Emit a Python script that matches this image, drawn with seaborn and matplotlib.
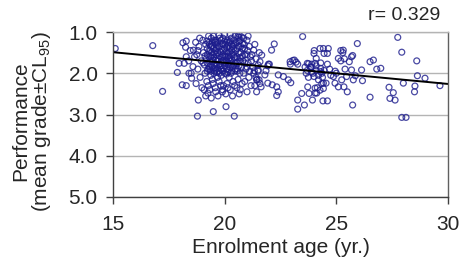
import matplotlib
matplotlib.use("Agg")
import matplotlib.pyplot as plt
import seaborn as sns
import numpy as np
import pandas as pd

# ---- data (age in years, mean grade) ----
young_age = [15.1, 16.78, 17.22, 18.13, 18.28, 18.25, 18.46, 18.28, 17.96, 18.19, 18.39, 17.88,
             18.40, 18.52, 18.10, 18.28, 18.58, 18.82, 18.78, 19.49, 20.06, 20.43, 20.64, 20.64,
             19.25, 19.9, 20.7, 18.6, 18.5, 18.65, 21.3, 21.43, 21.2, 21.35, 21.5]
young_grade = [1.40, 1.33, 2.44, 1.26, 1.22, 1.37, 1.45, 1.60, 1.76, 1.76, 1.70, 1.98,
               2.00, 2.12, 2.28, 2.30, 1.84, 2.65, 3.04, 2.93, 2.81, 3.04, 1.05, 1.13,
               2.48, 2.45, 2.40, 1.44, 2.00, 1.60, 1.44, 2.16, 1.70, 2.30, 1.95]

cluster_age = [18.7, 18.75, 18.8, 18.85, 18.9, 18.95, 18.72, 18.88, 18.98, 18.8,
               19.02, 19.05, 19.1, 19.12, 19.15, 19.18, 19.2, 19.22, 19.25, 19.28, 19.08, 19.15, 19.3, 19.27, 19.03, 19.2, 19.12,
               19.32, 19.35, 19.38, 19.4, 19.42, 19.45, 19.48, 19.5, 19.52, 19.55, 19.58, 19.33, 19.4, 19.45, 19.5, 19.56, 19.36, 19.44, 19.52, 19.58, 19.34, 19.47,
               19.6, 19.62, 19.65, 19.68, 19.7, 19.72, 19.75, 19.78, 19.8, 19.82, 19.85, 19.88, 19.6, 19.7, 19.75, 19.85, 19.9, 19.64, 19.74, 19.86, 19.66, 19.8, 19.9,
               19.92, 19.95, 19.98, 20.0, 20.02, 20.05, 20.08, 20.1, 20.12, 20.15, 20.18, 20.2, 19.95, 20.05, 20.15, 20.0, 20.1, 20.18, 19.94, 20.06, 20.2, 20.14,
               20.22, 20.25, 20.28, 20.3, 20.32, 20.35, 20.38, 20.4, 20.42, 20.45, 20.48, 20.5, 20.25, 20.35, 20.45, 20.3, 20.42, 20.48, 20.24, 20.36,
               20.52, 20.55, 20.58, 20.6, 20.62, 20.65, 20.68, 20.7, 20.72, 20.75, 20.78, 20.8, 20.55, 20.65, 20.6, 20.75, 20.7,
               20.82, 20.85, 20.88, 20.9, 20.95, 21.0, 21.02, 21.05, 21.08, 21.1, 21.15, 21.18, 20.9, 21.0, 21.12, 20.85, 21.05,
               21.22, 21.25, 21.3, 21.35, 21.4, 21.45, 21.55, 21.5, 21.58]
cluster_grade = [1.25, 1.55, 1.90, 1.35, 2.10, 1.70, 2.25, 1.15, 2.35, 1.45,
                 1.20, 1.50, 1.80, 2.00, 1.30, 1.65, 2.20, 1.40, 1.90, 1.10, 2.40, 2.55, 1.60, 2.30, 1.75, 1.22, 1.58,
                 1.30, 1.70, 2.05, 1.15, 1.50, 1.85, 2.25, 1.40, 1.62, 1.95, 1.25, 2.40, 2.60, 2.15, 1.10, 1.78, 1.45, 1.33, 2.00, 2.35, 1.90, 1.68,
                 1.20, 1.55, 1.80, 2.10, 1.35, 1.65, 1.95, 1.15, 1.48, 2.30, 1.72, 1.28, 2.45, 2.55, 2.20, 2.05, 1.60, 1.40, 1.08, 1.90, 1.98, 1.82, 2.40,
                 1.15, 1.45, 1.75, 2.00, 1.30, 1.60, 1.90, 2.25, 1.20, 1.50, 1.80, 2.10, 2.30, 2.50, 2.35, 1.05, 1.38, 1.65, 1.88, 1.72, 1.25, 1.98,
                 1.40, 1.70, 2.00, 1.15, 1.55, 1.85, 2.20, 1.30, 1.62, 1.95, 1.10, 1.45, 2.40, 2.55, 2.30, 1.78, 1.20, 1.75, 1.05, 1.35,
                 1.25, 1.60, 1.90, 2.15, 1.35, 1.70, 2.00, 1.20, 1.50, 1.85, 2.25, 1.40, 2.35, 2.50, 1.10, 1.12, 1.62,
                 1.70, 2.00, 1.30, 1.55, 1.90, 1.20, 1.45, 1.75, 2.10, 1.35, 1.60, 2.30, 2.20, 2.45, 1.95, 1.15, 1.10,
                 1.55, 1.85, 2.00, 1.30, 1.65, 2.15, 1.50, 1.80, 2.25]

core_age = [19.22, 19.22, 19.22, 19.3, 19.3, 19.3, 19.38, 19.38, 19.38, 19.38, 19.45, 19.45, 19.45,
            19.52, 19.52, 19.52, 19.6, 19.6, 19.6, 19.6, 19.68, 19.68, 19.68, 19.68,
            19.76, 19.76, 19.76, 19.76, 19.84, 19.84, 19.84, 19.84, 19.92, 19.92, 19.92, 19.92,
            20.0, 20.0, 20.0, 20.0, 20.08, 20.08, 20.08, 20.08, 20.16, 20.16, 20.16, 20.16,
            20.24, 20.24, 20.24, 20.24, 20.32, 20.32, 20.32, 20.32, 20.4, 20.4, 20.4,
            20.48, 20.48, 20.48, 20.56, 20.56, 20.56, 20.64, 20.64, 20.64, 20.72, 20.72,
            20.8, 20.8, 20.9, 20.9, 21.0, 21.0]
core_grade = [1.55, 1.75, 1.95, 1.25, 1.45, 1.85, 1.35, 1.60, 1.80, 1.95, 1.25, 1.55, 1.72,
              1.20, 1.50, 1.88, 1.30, 1.45, 1.68, 1.92, 1.25, 1.50, 1.70, 1.88,
              1.35, 1.58, 1.78, 2.00, 1.20, 1.42, 1.62, 1.82, 1.30, 1.55, 1.70, 1.95,
              1.22, 1.40, 1.58, 1.82, 1.25, 1.48, 1.68, 2.02, 1.32, 1.58, 1.75, 1.92,
              1.22, 1.48, 1.62, 1.85, 1.30, 1.45, 1.68, 1.95, 1.40, 1.55, 1.80,
              1.28, 1.62, 1.90, 1.40, 1.75, 1.95, 1.22, 1.52, 1.82, 1.35, 1.72,
              1.28, 1.58, 1.40, 1.75, 1.55, 1.85]

mid_age = [21.66, 21.58, 21.96, 21.5, 21.8, 21.54, 21.63, 21.43, 21.93, 22.13, 22.33, 22.4, 22.33, 22.4,
           22.63, 22.93, 23.12, 23.27, 22.85, 22.96, 23.27, 23.27, 23.45, 23.57, 23.72, 23.78, 23.93,
           24.01, 24.27, 23.49, 22.22, 22.1,
           23.7, 23.9, 24.05, 24.3, 23.7, 23.9, 24.1, 24.3, 23.75, 24.0, 24.2, 24.3, 24.35, 24.15, 24.05,
           23.65, 23.85, 24.1, 23.95, 24.2, 23.6, 24.35, 24.42, 24.27, 24.05, 24.12,
           24.0, 24.1, 23.76, 23.86, 22.94, 23.05, 23.2, 22.0, 21.93, 21.85, 21.33, 21.4]
mid_grade = [1.56, 1.72, 1.78, 1.92, 2.04, 2.16, 2.33, 2.45, 2.24, 2.28, 2.33, 2.45, 2.54, 2.04,
             2.08, 1.72, 1.68, 1.78, 2.16, 2.23, 2.65, 2.87, 2.49, 2.77, 2.33, 2.49, 2.65,
             1.45, 1.40, 1.11, 1.29, 1.44,
             1.76, 1.78, 1.76, 1.75, 1.93, 1.97, 1.93, 1.88, 2.10, 2.08, 2.16, 1.96, 2.25, 2.35, 2.48,
             2.00, 1.85, 1.82, 2.00, 2.05, 1.85, 2.00, 2.24, 2.41, 2.36, 2.48,
             1.52, 1.64, 1.77, 1.85, 1.78, 1.69, 1.73, 1.78, 1.82, 1.94, 1.94, 2.10]

old_age = [25.94, 25.31, 25.29, 24.64, 24.6, 24.42, 24.45, 25.68, 25.58, 25.09, 25.2, 24.6, 26.51, 26.66,
           26.81, 26.99, 26.13, 25.68, 25.39, 25.46, 25.24, 24.87, 24.94, 25.09, 25.34, 25.49, 24.54,
           24.42, 24.38, 25.76, 25.85, 26.17, 26.51, 25.73, 24.4, 24.6, 24.95, 24.7, 24.45, 25.0, 24.75,
           25.2, 25.36, 25.73,
           27.75, 27.93, 28.6, 28.63, 28.97, 28.0, 27.36, 27.55, 27.4, 27.63, 28.52, 28.5, 29.64,
           27.93, 28.12]
old_grade = [1.28, 1.44, 1.50, 1.40, 1.52, 1.40, 1.52, 1.60, 1.72, 1.64, 1.70, 1.78, 1.72, 1.68,
             1.90, 1.88, 1.92, 1.92, 1.90, 2.08, 2.16, 2.08, 2.24, 2.33, 2.33, 2.45, 2.24,
             2.37, 2.10, 2.16, 2.06, 2.18, 2.58, 2.77, 2.67, 2.67, 1.95, 1.90, 1.93, 2.00, 2.05,
             1.45, 1.65, 1.57,
             1.13, 1.49, 1.70, 2.06, 2.12, 2.24, 2.34, 2.47, 2.61, 2.65, 2.31, 2.45, 2.30,
             3.07, 3.07]

y_ticks = [1.0, 2.0, 3.0, 4.0, 5.0]
x_ticks = [15, 20, 25, 30]
r_text = "r= 0.329"

df = pd.DataFrame({
    "age": young_age + cluster_age + core_age + mid_age + old_age,
    "grade": young_grade + cluster_grade + core_grade + mid_grade + old_grade,
})

sns.set_style("white")
plt.rcParams["font.family"] = ["Liberation Sans", "DejaVu Sans"]
plt.rcParams["mathtext.fontset"] = "custom"
plt.rcParams["mathtext.rm"] = "Liberation Sans"
plt.rcParams["mathtext.it"] = "Liberation Sans"

FS = 15

fig = plt.figure(figsize=(4.62, 2.60), dpi=100)
ax = fig.add_axes([113 / 462, 1 - 197 / 260, 335 / 462, 165 / 260])
ax.set_xlim(15, 30)
ax.set_ylim(5.0, 1.0)

for yv in y_ticks:
    ax.axhline(yv, color="#b4b4b4", lw=1.0, zorder=0)

sns.regplot(data=df, x="age", y="grade", ax=ax, ci=None, truncate=False,
            scatter_kws=dict(s=18, facecolors="none", edgecolors="#1c1c8c", linewidths=0.9),
            line_kws=dict(color="black", lw=1.4))
ax.set_xlim(15, 30)
ax.set_ylim(5.0, 1.0)

ax.set_yticks(y_ticks)
ax.set_yticklabels([f"{v:.1f}" for v in y_ticks], fontsize=FS)
ax.set_xticks(x_ticks)
ax.set_xticklabels([str(v) for v in x_ticks], fontsize=FS)
ax.tick_params(axis="both", direction="out", length=5, width=1, color="#404040", left=True, bottom=True)
ax.tick_params(axis="y", pad=6)
ax.tick_params(axis="x", pad=8)

for side in ["left", "bottom"]:
    ax.spines[side].set_color("#404040")
    ax.spines[side].set_linewidth(1.0)
ax.spines["right"].set_color("#606060")
ax.spines["right"].set_linewidth(1.0)
ax.spines["top"].set_color("#b4b4b4")
ax.spines["top"].set_linewidth(1.0)

ax.set_xlabel("Enrolment age (yr.)", fontsize=FS, labelpad=3)
ax.set_ylabel("")
fig.text(32 / 462, 1 - 121 / 260, "Performance\n(mean grade\u00b1CL$_{95}$)", rotation=90,
         ha="center", va="center", multialignment="center", fontsize=FS, linespacing=1.0)

fig.text(440 / 462, 1 - 15 / 260, r_text, ha="right", va="center", fontsize=14)

fig.savefig("out.png", dpi=100)
